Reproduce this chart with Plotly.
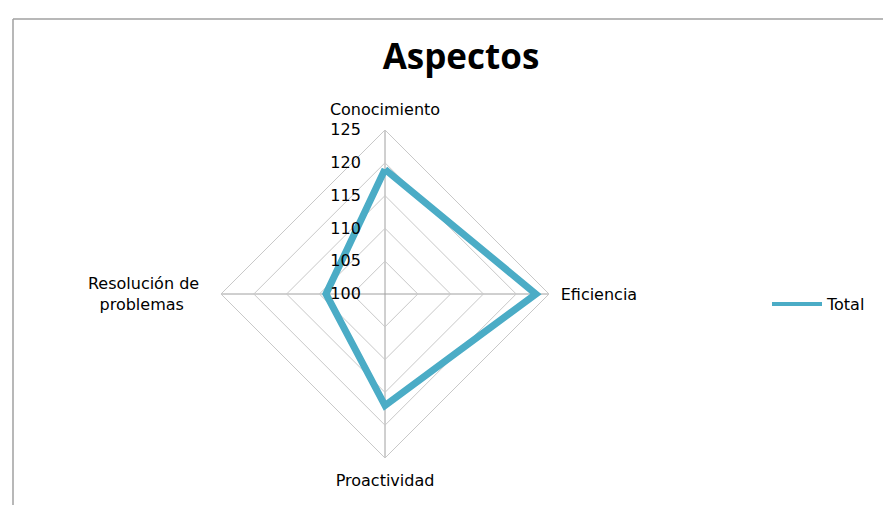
import plotly.graph_objects as go

# data
aspectos = ["Conocimiento", "Eficiencia", "Proactividad", "Resolución de<br>problemas"]
total = [119, 123, 117, 109]
ticks = [100, 105, 110, 115, 120, 125]

teal = "#4BACC6"
font = "DejaVu Sans, sans-serif"
nb = "\u00a0"

# centre the two lines of the left label like the reference
labels = ["Conocimiento", "Eficiencia", "Proactividad",
          "Resolución de" + nb * 2 + "<br>problemas" + nb * 5]

fig = go.Figure()
fig.add_trace(go.Scatterpolar(
    r=total + [total[0]],
    theta=aspectos + [aspectos[0]],
    mode="lines",
    name="Total",
    showlegend=False,
    line=dict(color=teal, width=7),
))
# legend entry drawn with the thinner line seen in the reference
fig.add_trace(go.Scatterpolar(
    r=[None], theta=[aspectos[0]], mode="lines", name="Total",
    line=dict(color=teal, width=4),
))

cx, cy, rad = 377, 286, 164

fig.update_layout(
    width=891, height=505,
    margin=dict(l=0, r=0, t=0, b=0),
    paper_bgcolor="white",
    font=dict(family=font, color="#000000"),
    title=dict(text="<b>Aspectos</b>", x=453/891, xanchor="center",
               y=1 - 49/505, yanchor="middle",
               font=dict(size=35, family="Open Sans, sans-serif", color="#000000")),
    polar=dict(
        domain=dict(x=[(cx - rad)/891, (cx + rad)/891],
                    y=[(505 - cy - rad)/505, (505 - cy + rad)/505]),
        gridshape="linear",
        bgcolor="white",
        radialaxis=dict(range=[100, 125], tickvals=ticks, angle=90, tickangle=90,
                        side="counterclockwise", showline=False,
                        gridcolor="#c8c8c8", gridwidth=1,
                        ticks="outside", ticklen=18, tickcolor="rgba(0,0,0,0)",
                        tickfont=dict(size=16, color="#000000")),
        angularaxis=dict(direction="clockwise", rotation=90,
                         tickvals=aspectos, ticktext=labels,
                         gridcolor="#a0a0a0", linecolor="#c8c8c8",
                         showline=True, ticks="outside", ticklen=8,
                         tickcolor="rgba(0,0,0,0)",
                         tickfont=dict(size=16, color="#000000")),
    ),
    showlegend=True,
    legend=dict(x=759/891, y=1 - 296/505, xanchor="left", yanchor="middle",
                itemwidth=50,
                font=dict(size=16, color="#000000"), bgcolor="rgba(0,0,0,0)"),
    shapes=[
        dict(type="line", xref="paper", yref="paper", x0=5/891, x1=1.0,
             y0=1 - 11/505, y1=1 - 11/505, line=dict(color="#a0a0a0", width=1.5)),
        dict(type="line", xref="paper", yref="paper", x0=5/891, x1=5/891,
             y0=0, y1=1 - 11/505, line=dict(color="#a0a0a0", width=1.5)),
    ],
)

fig.write_html("out.html")
